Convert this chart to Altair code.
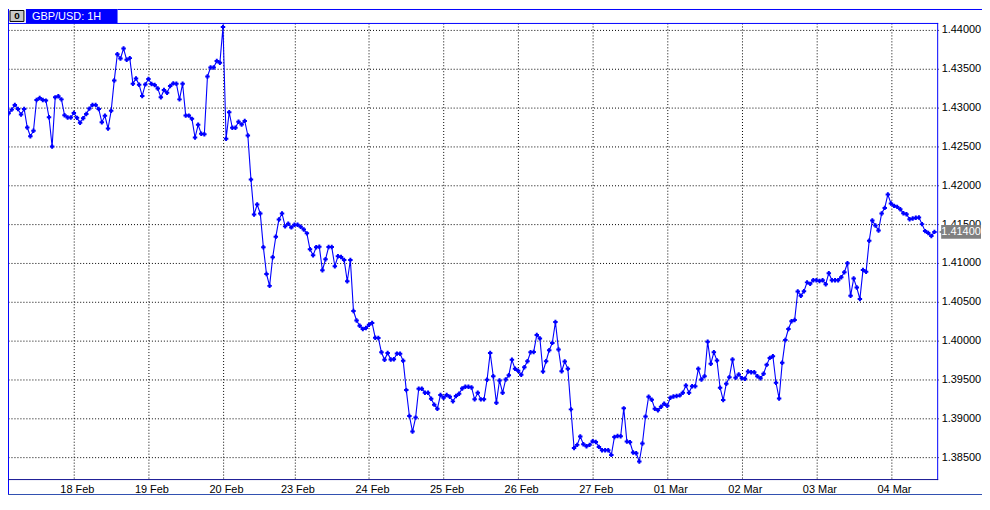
import altair as alt
import pandas as pd

# ---- data (hourly closes, GBP/USD) ----
values = [
    1.42927, 1.42974, 1.43035, 1.42983, 1.42910, 1.42983, 1.42744, 1.42632, 1.42701, 1.43099,
    1.43124, 1.43099, 1.43090, 1.42876, 1.42500, 1.43132, 1.43145, 1.43106, 1.42901, 1.42872,
    1.42872, 1.42932, 1.42868, 1.42804, 1.42863, 1.42919, 1.42987, 1.43035, 1.43035, 1.42983,
    1.42812, 1.42894, 1.42731, 1.42958, 1.43350, 1.43688, 1.43632, 1.43760, 1.43615, 1.43637,
    1.43308, 1.43376, 1.43295, 1.43150, 1.43299, 1.43368, 1.43304, 1.43291, 1.43247, 1.43132,
    1.43227, 1.43192, 1.43278, 1.43312, 1.43308, 1.43106, 1.43308, 1.42897, 1.42897, 1.42855,
    1.42615, 1.42778, 1.42663, 1.42658, 1.43401, 1.43517, 1.43517, 1.43599, 1.43577, 1.44038,
    1.42599, 1.42940, 1.42740, 1.42740, 1.42817, 1.42782, 1.42829, 1.42641,
    1.42073, 1.41624, 1.41753, 1.41637, 1.41201, 1.40859, 1.40705, 1.41073, 1.41337, 1.41560,
    1.41637, 1.41471, 1.41504, 1.41458, 1.41491, 1.41491, 1.41465, 1.41432, 1.41381, 1.41176,
    1.41099, 1.41201, 1.41209, 1.40906, 1.41047, 1.41205, 1.41205, 1.40958, 1.41086, 1.41077,
    1.41038, 1.40765, 1.41038, 1.40381,
    1.40260, 1.40192, 1.40150, 1.40163, 1.40205, 1.40227, 1.40038, 1.40035, 1.39850, 1.39753,
    1.39842, 1.39756, 1.39760, 1.39833, 1.39830, 1.39740, 1.39363, 1.39030, 1.38830, 1.39009,
    1.39381, 1.39381, 1.39330, 1.39330, 1.39253, 1.39176, 1.39124, 1.39299, 1.39265, 1.39299,
    1.39278, 1.39218, 1.39286, 1.39317, 1.39385, 1.39406, 1.39406, 1.39397, 1.39244, 1.39330,
    1.39244, 1.39244, 1.39496, 1.39842, 1.39542, 1.39201, 1.39487, 1.39330, 1.39500, 1.39555,
    1.39753, 1.39637, 1.39612, 1.39560, 1.39658, 1.39735, 1.39850, 1.39855, 1.40073, 1.40029,
    1.39603, 1.39735, 1.39876, 1.39971, 1.40240, 1.39885, 1.39606, 1.39731, 1.39637, 1.39115,
    1.38619, 1.38658, 1.38765, 1.38667, 1.38641, 1.38658, 1.38705, 1.38696, 1.38632, 1.38590,
    1.38590, 1.38590, 1.38529, 1.38760, 1.38773, 1.38769, 1.39128, 1.38701,
    1.38692, 1.38560, 1.38551, 1.38445, 1.38676, 1.39022, 1.39278, 1.39240, 1.39124, 1.39103,
    1.39150, 1.39188, 1.39163, 1.39265, 1.39282, 1.39286, 1.39295, 1.39330, 1.39423, 1.39330,
    1.39414, 1.39414, 1.39637, 1.39500, 1.39542, 1.39987, 1.39701, 1.39850, 1.39744, 1.39394,
    1.39235, 1.39445, 1.39530, 1.39756, 1.39522, 1.39564, 1.39517, 1.39509, 1.39603, 1.39594,
    1.39594, 1.39542, 1.39517, 1.39573, 1.39688, 1.39778, 1.39799, 1.39458, 1.39256, 1.39714,
    1.40009, 1.40150, 1.40250, 1.40265, 1.40632, 1.40577, 1.40637, 1.40750, 1.40731, 1.40778,
    1.40778, 1.40769, 1.40778, 1.40727, 1.40868, 1.40778, 1.40778, 1.40778, 1.40817, 1.40881,
    1.40996, 1.40577, 1.40799, 1.40683, 1.40535, 1.40910, 1.40888, 1.41286, 1.41547, 1.41483,
    1.41419, 1.41637, 1.41709, 1.41881, 1.41765, 1.41735, 1.41722, 1.41692, 1.41641, 1.41628,
    1.41564, 1.41573, 1.41581, 1.41586, 1.41500, 1.41410, 1.41385, 1.41346, 1.41400,
]

day_labels = ["18 Feb", "19 Feb", "20 Feb", "23 Feb", "24 Feb", "25 Feb",
              "26 Feb", "27 Feb", "01 Mar", "02 Mar", "03 Mar", "04 Mar"]
day_index = [21, 45, 69, 92, 116, 140, 164, 188, 212, 236, 260, 284]
y_ticks = [1.385, 1.390, 1.395, 1.400, 1.405, 1.410, 1.415, 1.420,
           1.425, 1.430, 1.435, 1.440]
title_text = "GBP/USD: 1H"

FONT = "Liberation Sans"
BLUE = "#0000FF"
W, H = 934, 459

df = pd.DataFrame({"idx": list(range(len(values))), "price": values})
last = pd.DataFrame({"price": [values[-1]], "label": [f"{values[-1]:.5f}"]})

lab_arr = "[" + ",".join(f"'{d}'" for d in day_labels) + "]"
idx_arr = "[" + ",".join(str(i) for i in day_index) + "]"

x_enc = alt.X(
    "idx:Q",
    scale=alt.Scale(domain=[-0.2, 299.2], nice=False, zero=False),
    axis=alt.Axis(
        values=day_index,
        labelExpr=f"{lab_arr}[indexof({idx_arr}, datum.value)]",
        grid=True, gridColor="#000000", gridDash=[1, 2], gridOpacity=1, gridWidth=1,
        ticks=False, tickSize=0, domain=False,
        labelPadding=3, labelOffset=3, labelFont=FONT, labelFontSize=11,
        labelColor="#000000", labelFlush=False, labelOverlap=False,
        title=None, zindex=0,
    ),
)
y_enc = alt.Y(
    "price:Q",
    scale=alt.Scale(domain=[1.38205, 1.44090], nice=False, zero=False),
    axis=alt.Axis(
        orient="right", values=y_ticks, format=".5f",
        grid=True, gridColor="#000000", gridDash=[1, 2], gridOpacity=1, gridWidth=1,
        ticks=False, tickSize=0, domain=False,
        labelPadding=3, labelFont=FONT, labelFontSize=11, labelColor="#000000",
        labelFlush=False, labelOverlap=False, title=None, zindex=0,
    ),
)

line = alt.Chart(df).mark_line(color=BLUE, strokeWidth=1.1).encode(x=x_enc, y=y_enc)
pts = alt.Chart(df).mark_point(
    shape="M-1,0L1,0M0,-1L0,1", size=20, filled=False, strokeWidth=2,
    color=BLUE, opacity=1,
).encode(x=x_enc, y=y_enc)

one = alt.Data(values=[{}])


def rect(x1, x2, y1, y2, fill, stroke=None):
    kw = dict(fill=fill)
    if stroke:
        kw.update(stroke=stroke, strokeWidth=1)
    return alt.Chart(one).mark_rect(**kw).encode(
        x=alt.value(x1), x2=alt.value(x2), y=alt.value(y1), y2=alt.value(y2))


def rule(x1, x2, y1, y2, color, w=1):
    return alt.Chart(one).mark_rule(color=color, strokeWidth=w).encode(
        x=alt.value(x1), x2=alt.value(x2), y=alt.value(y1), y2=alt.value(y2))


deco = [
    # title row
    rule(110, 978, -13.5, -13.5, BLUE),
    rect(2, 16, -12.5, -1.5, "#C8C8C8", "#000000"),
    alt.Chart(one).mark_text(font=FONT, fontSize=10, fontWeight="bold", color="#000000",
                             align="center", baseline="middle").encode(
        x=alt.value(9), y=alt.value(-7), text=alt.value("0")),
    rect(18, 110, -14, 0, BLUE),
    alt.Chart(one).mark_text(font=FONT, fontSize=11, color="#FFFFFF", align="left",
                             baseline="alphabetic").encode(
        x=alt.value(24), y=alt.value(-2.5), text=alt.value(title_text)),
    # frame
    rule(0.5, 0.5, -14, 474, BLUE),
    rule(0, W, 0.5, 0.5, BLUE),
    rule(W - 0.5, W - 0.5, 0, H, BLUE),
    rule(0, W, H - 0.5, H - 0.5, "#101090"),
    rule(0, 978, 473.5, 473.5, "#3050B0"),
]

# last price marker on the right axis
box = alt.Chart(last).mark_tick(orient="horizontal", color="#808080", size=40,
                                thickness=14, opacity=1).encode(
    x=alt.value(957), y=y_enc)
arrow = alt.Chart(last).mark_point(shape="triangle-left", filled=True, size=40,
                                   color="#808080", opacity=1).encode(
    x=alt.value(937.5), y=y_enc)
box_txt = alt.Chart(last).mark_text(font=FONT, fontSize=11, color="#FFFFFF",
                                    align="center", baseline="middle").encode(
    x=alt.value(957), y=y_enc, text="label:N")

chart = alt.layer(line, pts, *deco, box, arrow, box_txt).properties(
    width=W, height=H,
    autosize=alt.AutoSizeParams(type="none"),
    padding={"left": 0, "top": 14, "right": 44, "bottom": 15},
    background="#FFFFFF",
).configure_view(stroke=None)

chart.save("out.html", embed_options={"renderer": "svg", "actions": False})
